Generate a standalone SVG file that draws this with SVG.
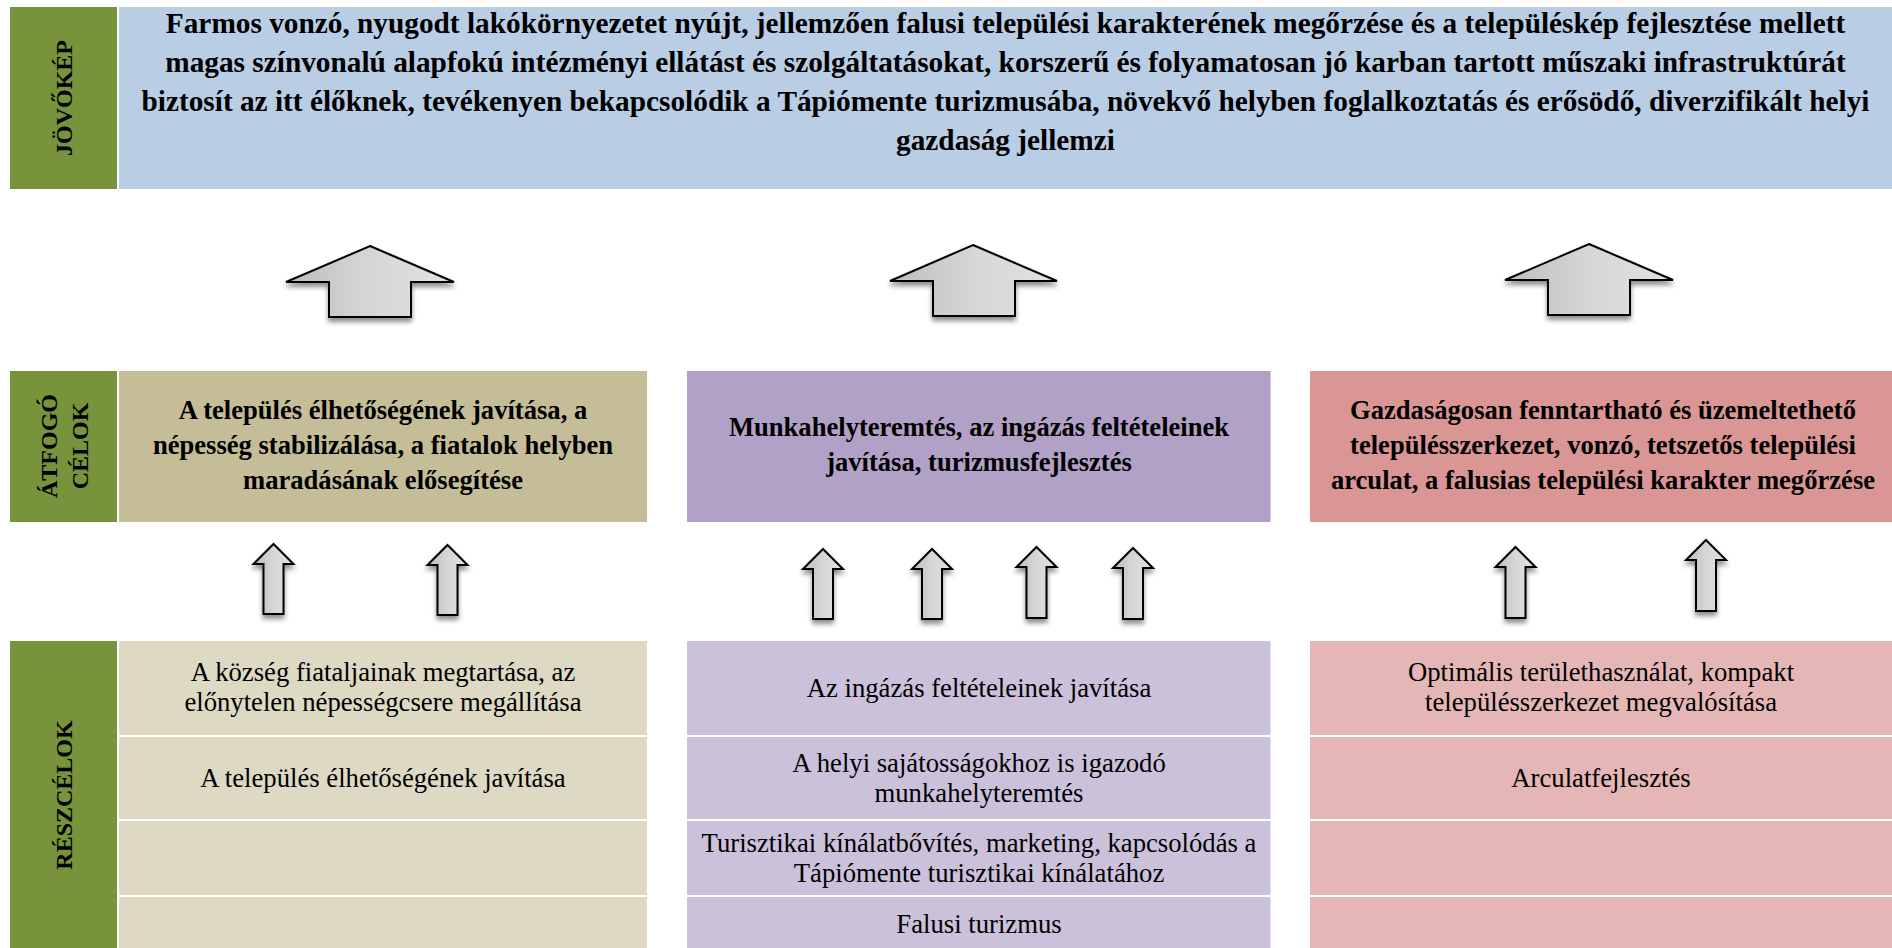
<svg xmlns="http://www.w3.org/2000/svg" width="1892" height="948" viewBox="0 0 1892 948">
<defs>
<linearGradient id="ag" x1="0" y1="0" x2="1" y2="0">
<stop offset="0" stop-color="#bdbdbd"/>
<stop offset="0.5" stop-color="#d6d6d6"/>
<stop offset="1" stop-color="#e2e2e2"/>
</linearGradient>
<filter id="sh" x="-20%" y="-20%" width="140%" height="150%">
<feDropShadow dx="0" dy="4" stdDeviation="2.5" flood-color="#000" flood-opacity="0.45"/>
</filter>
</defs>
<style>
.lbl{font-family:"Liberation Serif","Times New Roman",serif;font-weight:bold;font-size:24px;fill:#000;text-anchor:middle}
.t{font-family:"Liberation Serif","Times New Roman",serif;font-weight:bold;font-size:29.3px;fill:#000;text-anchor:middle}
.b{font-family:"Liberation Serif","Times New Roman",serif;font-weight:bold;font-size:26.6px;fill:#000;text-anchor:middle}
.r{font-family:"Liberation Serif","Times New Roman",serif;font-size:26.7px;fill:#000;text-anchor:middle}
.arr{fill:url(#ag);stroke:#000;stroke-width:2;stroke-linejoin:miter;filter:url(#sh)}
.g{fill:#77933C}
</style>
<rect width="1892" height="948" fill="#fff"/>

<g id="jovokep-label">
<rect class="g" x="10" y="7" width="107" height="182"/>
<text class="lbl" transform="translate(63.5,98) rotate(-90)" y="8">JÖVŐKÉP</text>
</g>
<g id="jovokep">
<rect x="119" y="7" width="1773" height="182" fill="#B9CDE5"/>
<text class="t" x="1005.5" y="32.5">Farmos vonzó, nyugodt lakókörnyezetet nyújt, jellemzően falusi települési karakterének megőrzése és a településkép fejlesztése mellett</text>
<text class="t" x="1005.5" y="71.5">magas színvonalú alapfokú intézményi ellátást és szolgáltatásokat, korszerű és folyamatosan jó karban tartott műszaki infrastruktúrát</text>
<text class="t" x="1005.5" y="110.5">biztosít az itt élőknek, tevékenyen bekapcsolódik a Tápiómente turizmusába, növekvő helyben foglalkoztatás és erősödő, diverzifikált helyi</text>
<text class="t" x="1005.5" y="149.5">gazdaság jellemzi</text>
</g>

<g id="atfogo-label">
<rect class="g" x="10" y="371" width="107" height="151"/>
<text class="lbl" transform="translate(63.5,446) rotate(-90)"><tspan x="0" y="-7">ÁTFOGÓ</tspan><tspan x="0" y="24">CÉLOK</tspan></text>
</g>
<g id="atfogo-1">
<rect x="119" y="371" width="528" height="151" fill="#C4BD97"/>
<text class="b" x="383" y="419">A település élhetőségének javítása, a</text>
<text class="b" x="383" y="454">népesség stabilizálása, a fiatalok helyben</text>
<text class="b" x="383" y="489">maradásának elősegítése</text>
</g>
<g id="atfogo-2">
<rect x="687" y="371" width="583.5" height="151" fill="#B2A1C7"/>
<text class="b" x="979" y="436">Munkahelyteremtés, az ingázás feltételeinek</text>
<text class="b" x="979" y="471">javítása, turizmusfejlesztés</text>
</g>
<g id="atfogo-3">
<rect x="1310" y="371" width="582" height="151" fill="#D99694"/>
<text class="b" x="1603" y="419">Gazdaságosan fenntartható és üzemeltethető</text>
<text class="b" x="1603" y="454">településszerkezet, vonzó, tetszetős települési</text>
<text class="b" x="1603" y="489">arculat, a falusias települési karakter megőrzése</text>
</g>

<g id="reszcelok-label">
<rect class="g" x="10" y="641" width="107" height="307"/>
<text class="lbl" transform="translate(63.5,795) rotate(-90)" y="8">RÉSZCÉLOK</text>
</g>
<g id="reszcel-1">
<rect x="119" y="641" width="528" height="94" fill="#DDD9C3"/>
<rect x="119" y="737" width="528" height="82" fill="#DDD9C3"/>
<rect x="119" y="821" width="528" height="74" fill="#DDD9C3"/>
<rect x="119" y="897" width="528" height="51" fill="#DDD9C3"/>
<text class="r" x="383" y="681">A község fiataljainak megtartása, az</text>
<text class="r" x="383" y="711">előnytelen népességcsere megállítása</text>
<text class="r" x="383" y="787">A település élhetőségének javítása</text>
</g>
<g id="reszcel-2">
<rect x="687" y="641" width="583.5" height="94" fill="#CCC1DA"/>
<rect x="687" y="737" width="583.5" height="82" fill="#CCC1DA"/>
<rect x="687" y="821" width="583.5" height="74" fill="#CCC1DA"/>
<rect x="687" y="897" width="583.5" height="51" fill="#CCC1DA"/>
<text class="r" x="979" y="697">Az ingázás feltételeinek javítása</text>
<text class="r" x="979" y="772">A helyi sajátosságokhoz is igazodó</text>
<text class="r" x="979" y="802">munkahelyteremtés</text>
<text class="r" x="979" y="852">Turisztikai kínálatbővítés, marketing, kapcsolódás a</text>
<text class="r" x="979" y="882">Tápiómente turisztikai kínálatához</text>
<text class="r" x="979" y="933">Falusi turizmus</text>
</g>
<g id="reszcel-3">
<rect x="1310" y="641" width="582" height="94" fill="#E5B6B6"/>
<rect x="1310" y="737" width="582" height="82" fill="#E5B6B6"/>
<rect x="1310" y="821" width="582" height="74" fill="#E5B6B6"/>
<rect x="1310" y="897" width="582" height="51" fill="#E5B6B6"/>
<text class="r" x="1601" y="681">Optimális területhasználat, kompakt</text>
<text class="r" x="1601" y="711">településszerkezet megvalósítása</text>
<text class="r" x="1601" y="787">Arculatfejlesztés</text>
</g>

<g id="connectors">
<path class="arr" d="M370,246 L454,282 L411,282 L411,317 L329,317 L329,282 L286,282 Z"/>
<path class="arr" d="M973,245 L1057,281 L1015,281 L1015,316 L933,316 L933,281 L890,281 Z"/>
<path class="arr" d="M1589,244 L1673,280 L1630,280 L1630,315 L1548,315 L1548,280 L1505,280 Z"/>
<path class="arr" d="M273.5,544 L293.5,564 L283.5,564 L283.5,614 L263.5,614 L263.5,564 L253.5,564 Z"/>
<path class="arr" d="M447.5,545 L467.5,565 L457.5,565 L457.5,615 L437.5,615 L437.5,565 L427.5,565 Z"/>
<path class="arr" d="M823,549 L843,569 L833,569 L833,619 L813,619 L813,569 L803,569 Z"/>
<path class="arr" d="M932,549 L952,569 L942,569 L942,619 L922,619 L922,569 L912,569 Z"/>
<path class="arr" d="M1036.5,547 L1056.5,567 L1046.5,567 L1046.5,618 L1026.5,618 L1026.5,567 L1016.5,567 Z"/>
<path class="arr" d="M1133,548 L1153,568 L1143,568 L1143,619 L1123,619 L1123,568 L1113,568 Z"/>
<path class="arr" d="M1515.5,547 L1535.5,567 L1525.5,567 L1525.5,618 L1505.5,618 L1505.5,567 L1495.5,567 Z"/>
<path class="arr" d="M1706,540 L1726,560 L1716,560 L1716,611 L1696,611 L1696,560 L1686,560 Z"/>
</g>
</svg>
